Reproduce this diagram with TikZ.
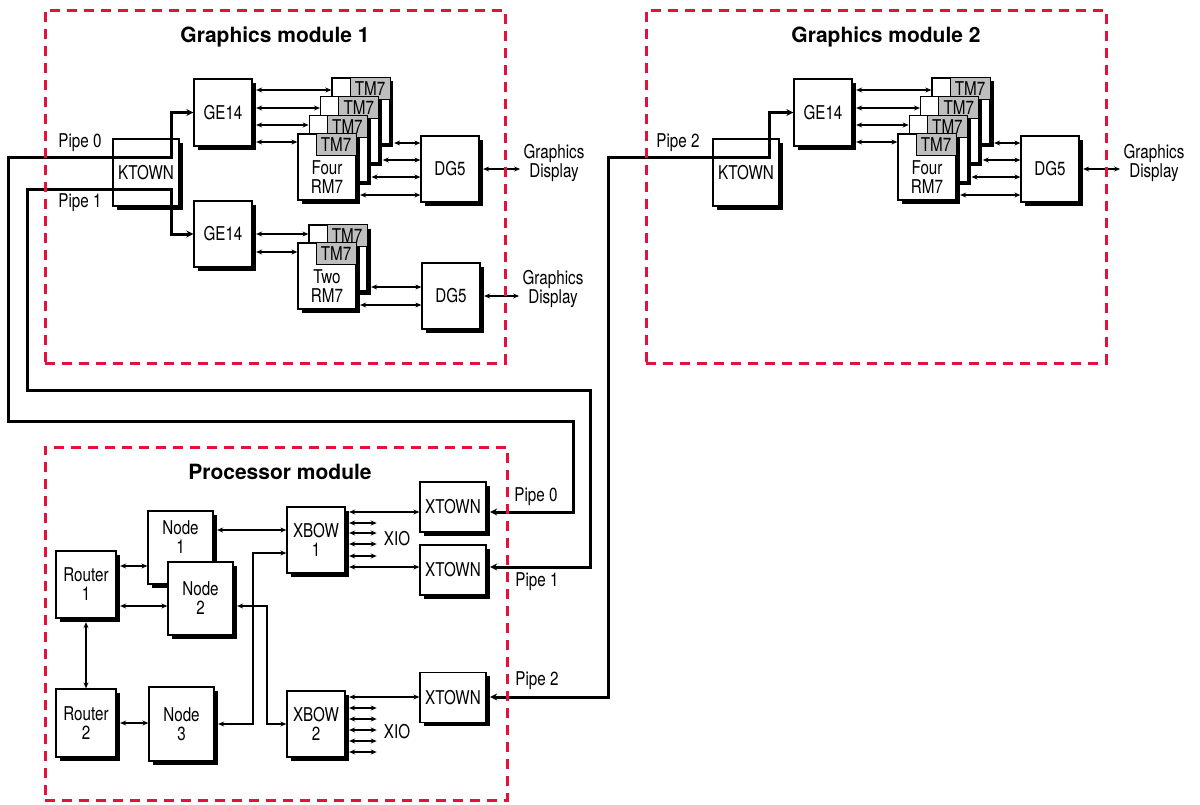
\documentclass[tikz,border=0pt]{standalone}
\usepackage{fontspec}
\setmainfont{TeX Gyre Heros}
\newfontfamily\narrowfont{TeX Gyre Heros}[FakeStretch=0.8]
\usetikzlibrary{positioning,shadows,arrows.meta}

\definecolor{modred}{RGB}{228,18,58}
\definecolor{tmgray}{RGB}{190,190,190}

\tikzset{
	box/.style={draw, fill=white, line width=1.3pt, align=center, inner sep=1pt,
		font=\narrowfont\fontsize{19}{19}\selectfont,
		drop shadow={shadow xshift=3.5pt, shadow yshift=-3.5pt, fill=black, opacity=1}},
	card/.style={minimum width=58pt, minimum height=66pt},
	tmlabel/.style={draw, fill=tmgray, line width=1.1pt, anchor=north east,
		minimum width=40pt, minimum height=22pt, inner sep=0pt,
		font=\narrowfont\fontsize{19}{19}\selectfont},
	txt/.style={align=center, font=\narrowfont\fontsize{19}{19}\selectfont},
	title/.style={font=\bfseries\fontsize{21}{23}\selectfont},
	biarrow/.style={{Stealth[length=6pt,width=5pt]}-{Stealth[length=6pt,width=5pt]}, line width=1.1pt},
	pipe/.style={{Stealth[length=7pt,width=7pt]}-{Stealth[length=7pt,width=7pt]}, line width=3pt},
	module/.style={draw=modred, line width=3pt, dash pattern=on 10pt off 7pt},
}

\begin{document}
\begin{tikzpicture}[x=1pt,y=-1pt]

\path[use as bounding box, fill=white] (0,0) rectangle (1200,804);

% Graphics module 1
\node [box, minimum width=66pt, minimum height=67pt] (ktown1) at (146,172.5) {KTOWN};
\node [box, minimum width=58pt, minimum height=67pt] (ge1a) at (223,112.5) {GE14};
\node [box, minimum width=58pt, minimum height=66pt] (ge1b) at (223,234) {GE14};

% Four RM7 stack
\foreach \k in {3,2,1} {
	\node [box, card] (rm1a\k) at ({327+11.33*\k},{167-18.67*\k}) {};
	\node [tmlabel] at (rm1a\k.north east) {TM7};
}
\node [box, card, label={[txt, yshift=-10pt]center:Four\\RM7}] (rm1a0) at (327,167) {};
\node [tmlabel] at (rm1a0.north east) {TM7};

% Two RM7 stack
\node [box, card] (rm1b1) at (338,258) {};
\node [tmlabel] at (rm1b1.north east) {TM7};
\node [box, card, label={[txt, yshift=-10pt]center:Two\\RM7}] (rm1b0) at (327,276) {};
\node [tmlabel] at (rm1b0.north east) {TM7};

\node [box, card] (dg1a) at (450,169) {DG5};
\node [box, card] (dg1b) at (451,296) {DG5};
\node [txt] (disp1a) at (554,163) {Graphics\\Display};
\node [txt] (disp1b) at (553,289) {Graphics\\Display};
\node [txt] (pipe1a) at (80,143) {Pipe 0};
\node [txt] (pipe1b) at (80,203) {Pipe 1};

% Graphics module 2
\node [box, minimum width=66pt, minimum height=67pt] (ktown2) at (746,172.5) {KTOWN};
\node [box, minimum width=58pt, minimum height=67pt] (ge2) at (823,112.5) {GE14};
\foreach \k in {3,2,1} {
	\node [box, card] (rm2\k) at ({927+11.33*\k},{167-18.67*\k}) {};
	\node [tmlabel] at (rm2\k.north east) {TM7};
}
\node [box, card, label={[txt, yshift=-10pt]center:Four\\RM7}] (rm20) at (927,167) {};
\node [tmlabel] at (rm20.north east) {TM7};
\node [box, card] (dg2) at (1050,169) {DG5};
\node [txt] (disp2) at (1154,163) {Graphics\\Display};
\node [txt] (pipe2) at (678,143) {Pipe 2};

% Processor module
\node [box, minimum width=60pt, minimum height=67pt] (router1) at (86,584.5) {Router\\1};
\node [box, minimum width=65pt, minimum height=73pt,
	label={[txt, yshift=10pt]center:Node\\1}] (node1) at (180.5,547.5) {};
\node [box, minimum width=65pt, minimum height=73pt] (node2) at (200.5,598.5) {Node\\2};
\node [box, minimum width=60pt, minimum height=68pt] (router2) at (86,723) {Router\\2};
\node [box, minimum width=65pt, minimum height=74pt] (node3) at (181.5,724) {Node\\3};
\node [box, card] (xbow1) at (316,540) {XBOW\\1};
\node [box, card] (xbow2) at (316,724) {XBOW\\2};
\node [box, minimum width=66pt, minimum height=50pt] (xtown1) at (453,507) {XTOWN};
\node [box, minimum width=66pt, minimum height=50pt] (xtown2) at (453,570) {XTOWN};
\node [box, minimum width=66pt, minimum height=50pt] (xtown3) at (453,697.5) {XTOWN};
\node [txt, inner xsep=7pt] (xio1) at (397,539) {XIO};
\node [txt, inner xsep=7pt] (xio2) at (397,732) {XIO};
\node [txt] (pipe0p) at (536,497) {Pipe 0};
\node [txt] (pipe1p) at (537,582) {Pipe 1};
\node [txt] (pipe2p) at (537,681) {Pipe 2};

% Arrows inside graphics modules
\foreach \k/\y in {3/90,2/108,1/125,0/142} {
	\draw[biarrow, shorten <=3.5pt] (ge1a.east |- 0,\y) -- (rm1a\k.west |- 0,\y);
	\draw[biarrow, shorten <=3.5pt] (ge2.east |- 0,\y) -- (rm2\k.west |- 0,\y);
}
\foreach \k/\y in {3/143,2/160,1/177,0/195} {
	\draw[biarrow, shorten <=3.5pt] (rm1a\k.east |- 0,\y) -- (dg1a.west |- 0,\y);
	\draw[biarrow, shorten <=3.5pt] (rm2\k.east |- 0,\y) -- (dg2.west |- 0,\y);
}
\draw[biarrow, shorten <=3.5pt] (ge1b.east |- 0,234) -- (rm1b1.west |- 0,234);
\draw[biarrow, shorten <=3.5pt] (ge1b.east |- 0,252) -- (rm1b0.west |- 0,252);
\draw[biarrow, shorten <=3.5pt] (rm1b1.east |- 0,287) -- (dg1b.west |- 0,287);
\draw[biarrow, shorten <=3.5pt] (rm1b0.east |- 0,305) -- (dg1b.west |- 0,305);
\draw[biarrow, shorten <=3.5pt] (dg1a.east) -- (disp1a.west |- dg1a.east);
\draw[biarrow, shorten <=3.5pt] (dg1b.east) -- (disp1b.west |- dg1b.east);
\draw[biarrow, shorten <=3.5pt] (dg2.east) -- (disp2.west |- dg2.east);

% Arrows inside processor module
\draw[biarrow, shorten <=3.5pt] (router1.east |- 0,566) -- (node1.west |- 0,566);
\draw[biarrow, shorten <=3.5pt] (router1.east |- 0,606) -- (node2.west |- 0,606);
\draw[biarrow, shorten <=3.5pt] (router1.south) -- (router2.north);
\draw[biarrow, shorten <=3.5pt] (router2.east) -- (node3.west |- router2.east);
\draw[biarrow, shorten <=3.5pt] (node1.east |- 0,530) -- (xbow1.west |- 0,530);
\draw[biarrow, shorten <=3.5pt] (node3.east) -| (253,553) -- (xbow1.west |- 0,553);
\draw[biarrow, shorten <=3.5pt] (node2.east |- 0,606) -| (267,724) -- (xbow2.west);
\draw[biarrow, shorten <=3.5pt] (xbow1.east |- 0,512) -- (xtown1.west |- 0,512);
\draw[biarrow, shorten <=3.5pt] (xbow1.east |- 0,567) -- (xtown2.west |- 0,567);
\draw[biarrow, shorten <=3.5pt] (xbow2.east |- 0,697) -- (xtown3.west |- 0,697);
\foreach \y in {523,533,544,556}
	\draw[biarrow, shorten <=3.5pt] (xbow1.east |- 0,\y) -- (xio1.west |- 0,\y);
\foreach \y in {708,719,730,741,752}
	\draw[biarrow, shorten <=3.5pt] (xbow2.east |- 0,\y) -- (xio2.west |- 0,\y);

% Pipes
\draw[pipe, shorten >=3.5pt] (ge1a.west) -| (171,157) -- (8,157) |- (573,421) |- (xtown1.east |- 0,512);
\draw[pipe, shorten >=3.5pt] (ge1b.west) -| (171,189) -- (27,189) |- (590,390) |- (xtown2.east |- 0,567);
\draw[pipe, shorten >=3.5pt] (ge2.west) -| (769,157) -- (608,157) |- (xtown3.east |- 0,697);

% Module frames
\node [module, minimum width=460pt, minimum height=353pt] (gm1) at (275,186.5) {};
\node [module, minimum width=460pt, minimum height=353pt] (gm2) at (876,186.5) {};
\node [module, minimum width=462pt, minimum height=353pt] (proc) at (276,623.5) {};
\node [title] (gm1title) at (275,37) {Graphics module 1};
\node [title] (gm2title) at (886,37) {Graphics module 2};
\node [title] (proctitle) at (280,472) {Processor module};

\end{tikzpicture}
\end{document}
